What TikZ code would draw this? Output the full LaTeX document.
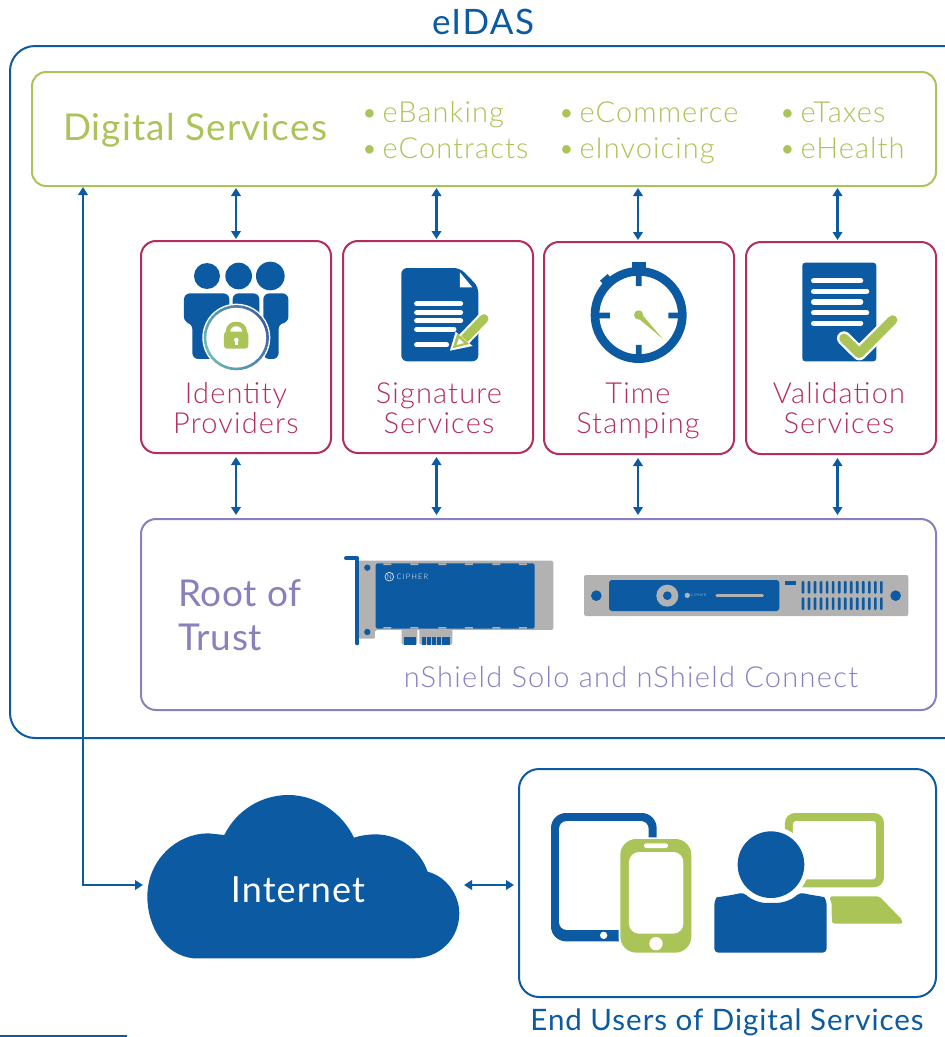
\documentclass[tikz,border=0pt]{standalone}
\usepackage{fontspec}
\setmainfont{Lato}[UprightFont=* Light,BoldFont=* Regular]
\newfontfamily\regfont{Lato}
\usetikzlibrary{arrows.meta,calc}
\definecolor{eblue}{HTML}{0B5AA2}
\definecolor{egreen}{HTML}{AAC457}
\definecolor{ered}{HTML}{B42C60}
\definecolor{epurple}{HTML}{8A80BD}
\definecolor{egray}{HTML}{B2B2B2}
\definecolor{ringa}{HTML}{72C2AE}
\definecolor{ringb}{HTML}{3C5BA6}
\tikzset{
 box/.style={draw,rectangle,inner sep=0pt,outer sep=0pt,line width=2pt},
 eidasbox/.style={box,draw=eblue,rounded corners=25pt},
 dsbox/.style={box,draw=egreen,rounded corners=14pt},
 svcbox/.style={box,draw=ered,rounded corners=15pt,minimum width=190pt,minimum height=212pt},
 rotbox/.style={box,draw=epurple,rounded corners=15pt},
 userbox/.style={box,draw=eblue,rounded corners=20pt},
 arr/.style={draw=eblue,line width=2.4pt,{Triangle[length=8pt,width=9.5pt]}-{Triangle[length=8pt,width=9.5pt]}},
 txt/.style={inner sep=0pt,outer sep=0pt},
 svclabel/.style={txt,anchor=base,align=center,text=ered,font=\fontsize{29}{30}\selectfont\addfontfeatures{LetterSpace=4}},
 grlabel/.style={txt,anchor=base west,text=egreen,font=\fontsize{29}{30}\selectfont\addfontfeatures{LetterSpace=3.7}},
 iconA/.style={shift={(140,240)},x=0.3333pt,y=-0.3333pt},
 iconB/.style={shift={(540,240)},x=0.3333pt,y=-0.3333pt},
 iconC/.style={shift={(330,540)},x=0.3333pt,y=-0.3333pt},
 iconD/.style={shift={(570,560)},x=0.3333pt,y=-0.3333pt},
 iconE/.style={shift={(520,790)},x=0.3333pt,y=-0.3333pt},
 iconF/.style={shift={(130,785)},x=0.3333pt,y=-0.3333pt},
}
\begin{document}
\begin{tikzpicture}[x=1pt,y=-1pt]
\path[use as bounding box] (0,0) rectangle (945,1037);
\clip (0,0) rectangle (945,1037);
\fill[white] (0,0) rectangle (945,1037);
% frames
\node[eidasbox,minimum width=960pt,minimum height=692pt] (eidas) at (490,392) {};
\node[dsbox,minimum width=904pt,minimum height=114pt] (ds) at (484,129) {};
\node[svcbox] (ip) at (236,347) {};
\node[svcbox] (ss) at (438,347) {};
\node[svcbox] (ts) at (639,348) {};
\node[svcbox] (vs) at (841,348) {};
\node[rotbox,minimum width=795pt,minimum height=191pt] (rot) at (538.5,614.5) {};
\node[userbox,minimum width=417pt,minimum height=228pt] (ub) at (727.5,883) {};
% titles
\node[txt,anchor=base,text=eblue,font=\fontsize{35}{37}\selectfont\bfseries\addfontfeatures{LetterSpace=4}] (t0) at (483,34) {eIDAS};
\node[txt,anchor=base west,text=egreen,font=\fontsize{37}{39}\selectfont\bfseries\addfontfeatures{LetterSpace=3}] (t1) at (63,140) {Digital Services};
\node[grlabel] (g1) at (361,122) {•\,eBanking};
\node[grlabel] (g2) at (361,158.5) {•\,eContracts};
\node[grlabel] (g3) at (558,122) {•\,eCommerce};
\node[grlabel] (g4) at (558,158.5) {•\,eInvoicing};
\node[grlabel] (g5) at (779,122) {•\,eTaxes};
\node[grlabel] (g6) at (779,158.5) {•\,eHealth};
\node[svclabel] (l1) at (236,433) {Identity\\Providers};
\node[svclabel] (l2) at (439,433) {Signature\\Services};
\node[svclabel] (l3) at (638,433) {Time\\Stamping};
\node[svclabel] (l4) at (839,433) {Validation\\Services};
\node[txt,anchor=base west,align=left,text=epurple,font=\fontsize{37}{44}\selectfont\bfseries\addfontfeatures{LetterSpace=2}] (l5) at (178,650) {Root of\\Trust};
\node[txt,anchor=base,text=epurple,font=\fontsize{29}{30}\selectfont\addfontfeatures{LetterSpace=4.5}] (l6) at (631,687) {nShield Solo and nShield Connect};
\node[txt,anchor=base,text=eblue,font=\fontsize{29.5}{31}\selectfont\bfseries\addfontfeatures{LetterSpace=3.3}] (l7) at (727,1030) {End Users of Digital Services};
% cloud
\begin{scope}[iconF]
\fill[eblue] (190,520) .. controls (100,510) and (52,420) .. (52,335)
  .. controls (52,225) and (140,145) .. (235,145) -- (283,150)
  .. controls (320,75) and (395,30) .. (475,30)
  .. controls (565,30) and (640,90) .. (672,158)
  .. controls (690,152) and (715,148) .. (735,148)
  .. controls (810,148) and (870,195) .. (893,260)
  .. controls (950,275) and (988,330) .. (988,385)
  .. controls (988,460) and (930,520) .. (850,520) -- cycle;
\end{scope}
\node[inner sep=0pt,outer sep=0pt,minimum width=321pt,minimum height=10pt] (cloud) at (303.5,885) {};
\node[txt,anchor=base,text=white,font=\fontsize{36}{38}\selectfont\regfont\addfontfeatures{LetterSpace=3}] (l8) at (298,902) {Internet};
% connectors
\coordinate (lx) at (83,187);
\draw[arr] (lx) |- (cloud.west);
\draw[arr] (cloud.east) -- ([xshift=-5pt]ub.west |- cloud.east);
\foreach \a/\d in {ip/0,ss/-1.5,ts/-1,vs/-3.5}{
 \draw[arr,shorten <=2pt,shorten >=2pt] ([xshift=\d pt]\a.north |- ds.south) -- ([xshift=\d pt]\a.north);
 \draw[arr,shorten <=4pt,shorten >=4pt] ([xshift=\d pt]\a.south) -- ([xshift=\d pt]\a.south |- rot.north);
}
% identity icon
\begin{scope}[iconA]
 \fill[eblue] (201,108) circle (39) (296,108) circle (40) (391,108) circle (43);
 \fill[eblue,rounded corners=6pt] (132,160) -- (268,160) -- (268,357) -- (157,357) -- (157,249) -- (132,249) -- cycle;
 \fill[eblue,rounded corners=6pt] (278,160) -- (358,160) -- (358,300) -- (278,300) -- cycle;
 \fill[eblue,rounded corners=6pt] (370,160) -- (445,160) -- (445,249) -- (416,249) -- (416,357) -- (370,357) -- cycle;
 \fill[white] (289,293) circle (102);
 \foreach \i in {0,...,35}{
  \pgfmathsetmacro{\p}{abs(mod(\i*10+30,360)-180)/180*100}
  \draw[line width=2.6pt,color=ringb!\p!ringa] ({289+94*cos(\i*10)},{293+94*sin(\i*10)}) -- ({289+94*cos(\i*10+11)},{293+94*sin(\i*10+11)});
 }
 \draw[egreen,line width=4.5pt] (264,290) -- (264,275) .. controls (264,244) and (314,244) .. (314,275) -- (314,290);
 \fill[egreen,rounded corners=3pt] (252,275) rectangle (325,326);
 \fill[white] (289,300) circle (7);
 \fill[white] (285,300) rectangle (293,314);
\end{scope}
% signature icon
\begin{scope}[iconA]
 \fill[eblue,rounded corners=6pt] (784,84) -- (960,84) -- (1015,140) -- (1015,364) -- (784,364) -- cycle;
 \fill[white] (960,97) -- (960,142) -- (997,142) -- cycle;
 \draw[white,line width=5pt,line cap=round] (830,192) -- (962,192) (830,218) -- (962,218) (830,243) -- (962,243) (830,268) -- (942,268) (830,315) -- (920,315);
 \draw[white,line width=13pt] (965,305) -- (1035,232);
 \draw[egreen,line width=9pt,line cap=round] (975,295) -- (1032,236);
 \fill[white] (930,332) -- (947,275) -- (998,318) -- cycle;
 \fill[egreen] (938,325) -- (952,280) -- (988,312) -- cycle;
 \fill[white] (950,315) -- (957,295) -- (972,309) -- cycle;
\end{scope}
% stopwatch
\begin{scope}[iconB]
 \fill[eblue,even odd rule] (296,225) circle (144) (296,225) circle (118);
 \fill[eblue] (275,65) rectangle (319,92);
 \fill[eblue] (180,122) -- (203,102) -- (222,125) -- (200,145) -- cycle;
 \fill[eblue] (288,90) rectangle (305,138) (288,315) rectangle (305,350) (175,218) rectangle (210,235) (385,218) rectangle (418,235);
 \fill[egreen] (296,225) circle (14);
 \fill[egreen] (290,231) -- (302,219) -- (368,296) -- cycle;
\end{scope}
% validation icon
\begin{scope}[iconB]
 \fill[eblue,rounded corners=3pt] (787,68) rectangle (1009,364);
 \draw[white,line width=5.3pt,line cap=round] (821,122) -- (962,122) (821,154) -- (980,154) (821,186) -- (962,186) (821,218) -- (980,218) (821,250) -- (962,250);
 \draw[white,line width=14pt,line cap=round,line join=round] (912,295) -- (958,340) -- (1058,240);
 \draw[egreen,line width=9.5pt,line cap=round,line join=round] (912,295) -- (958,340) -- (1058,240);
\end{scope}
% card
\begin{scope}[iconC]
 \fill[egray,rounded corners=2pt] (85,62) -- (670,62) -- (670,270) -- (135,270) -- (135,296) -- (85,296) -- cycle;
 \fill[egray,rounded corners=2pt] (215,262) rectangle (262,314);
 \fill[egray,rounded corners=2pt] (268,262) rectangle (367,314);
 \fill[eblue,rounded corners=2pt] (137,70) rectangle (614,266);
 \foreach \k in {160,241,325,405,487,567}{
  \fill[egray] (\k,70) rectangle (\k+24,75) (\k,261) rectangle (\k+24,266);
 }
 \fill[eblue] (112,83) circle (9.5) (112,276) circle (9.5);
 \draw[eblue,line width=4pt,line cap=round,line join=round] (48,55) -- (82,55) -- (82,310);
 \foreach \k in {222,234,247,275,290,305,320,335,347}{
  \fill[eblue] (\k,291) rectangle (\k+12,314);
 }
 \draw[white,line width=.6pt] (178,110) circle (13);
 \node[txt,text=white,font=\fontsize{7}{7}\selectfont] (cn) at (178,110) {N};
 \node[txt,anchor=west,text=white,font=\fontsize{7.5}{8}\selectfont\addfontfeatures{LetterSpace=15}] (cc) at (200,110) {CIPHER};
\end{scope}
% appliance
\begin{scope}[iconD]
 \fill[egray,rounded corners=2pt] (42,45) rectangle (1015,168);
 \fill[eblue,rounded corners=3pt] (117,60) rectangle (628,153);
 \fill[eblue] (79,107) circle (16) (977,107) circle (16);
 \fill[egray] (292,107) circle (33);
 \fill[eblue] (292,107) circle (13);
 \fill[egray] (352,106) circle (8);
 \node[txt,anchor=west,text=white,font=\fontsize{3.4}{4}\selectfont\addfontfeatures{LetterSpace=20}] (ac) at (363,106) {CIPHER};
 \draw[egray,line width=3pt,line cap=round] (441,107) -- (577,107);
 \fill[eblue] (644,63) rectangle (678,74);
 \foreach \k in {0,...,13}{
  \fill[eblue,rounded corners=1pt] ({695+18.1*\k},63) rectangle ({703+18.1*\k},101);
  \fill[eblue,rounded corners=1pt] ({695+18.1*\k},112) rectangle ({703+18.1*\k},150);
 }
\end{scope}
% end user devices
\begin{scope}[iconE]
 \fill[eblue,rounded corners=15pt] (93,69) rectangle (410,454);
 \fill[white,rounded corners=8pt] (117,93) rectangle (386,420);
 \fill[white] (251,436) circle (11);
 \fill[white,rounded corners=16pt] (296,142) rectangle (519,493);
 \fill[egreen,rounded corners=16pt] (301,147) rectangle (514,488);
 \fill[white,rounded corners=10pt] (327,186) rectangle (490,431);
 \fill[white,rounded corners=2.3pt] (372,160) rectangle (444,174);
 \fill[white] (408,461) circle (20);
 % laptop
 \fill[egreen,rounded corners=10pt] (795,69) rectangle (1092,292);
 \fill[white,rounded corners=3pt] (819,93) rectangle (1068,268);
 \fill[egreen,rounded corners=2pt] (930,319) -- (1078,319) -- (1147,390) -- (1147,401) -- (936,401) -- cycle;
 % person
 \fill[white] (753,224) circle (115);
 \fill[white,rounded corners=8pt] (570,320) rectangle (935,495);
 \fill[eblue] (753,224) circle (100);
 \fill[eblue,rounded corners=4pt] (583,488) -- (583,332) .. controls (590,322) and (640,315) .. (670,307)
   .. controls (695,330) and (720,339) .. (753,339) .. controls (790,339) and (815,330) .. (840,307)
   .. controls (870,315) and (912,320) .. (920,332) -- (920,488) -- cycle;
\end{scope}
% bottom rule
\fill[eblue] (0,1035) rectangle (127,1037);
\end{tikzpicture}
\end{document}
